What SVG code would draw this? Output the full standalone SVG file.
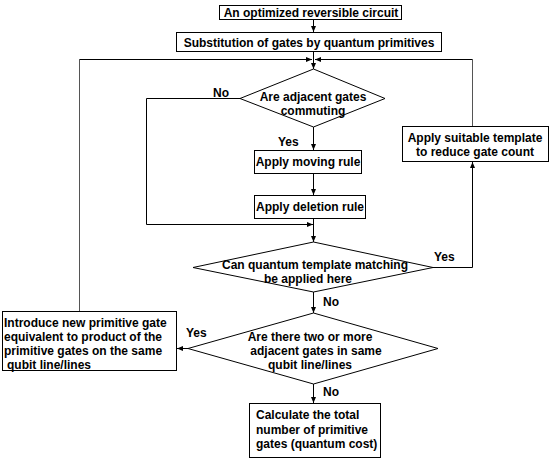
<svg xmlns="http://www.w3.org/2000/svg" width="553" height="465" viewBox="0 0 553 465">
<style>
.box{fill:#fff;stroke:#000;stroke-width:1}
.dia{fill:#fff;stroke:#000;stroke-width:1}
.t{font-family:"Liberation Sans",Arial,sans-serif;font-weight:bold;font-size:12px;fill:#000}
.c{text-anchor:middle}
.ln{fill:none;stroke:#000;stroke-width:1}
.lg{fill:none;stroke:#555;stroke-width:1}
</style>
<defs>
<marker id="ah" viewBox="0 0 6 6" refX="6" refY="3" markerWidth="6" markerHeight="6" orient="auto" markerUnits="userSpaceOnUse">
<path d="M0,0.5 L6,3 L0,5.5 Z" fill="#000"/>
</marker>
</defs>
<rect width="553" height="465" fill="#fff"/>
<g id="connectors">
<path class="ln" d="M313.5,20 V32" marker-end="url(#ah)"/>
<path class="ln" d="M313.5,52 V69" marker-end="url(#ah)"/>
<path class="lg" d="M79.5,311 V59.5"/>
<path class="ln" d="M79.5,59.5 H312" marker-end="url(#ah)"/>
<path class="lg" d="M472.5,127 V59.5"/>
<path class="ln" d="M472.5,59.5 H315" marker-end="url(#ah)"/>
<path class="ln" d="M240,98.5 H146.5 V224.5 H313" marker-end="url(#ah)"/>
<path class="ln" d="M313.5,127 V150" marker-end="url(#ah)"/>
<path class="ln" d="M313.5,174 V195" marker-end="url(#ah)"/>
<path class="ln" d="M313.5,219 V242" marker-end="url(#ah)"/>
<path class="ln" d="M433,267.5 H472.5 V162" marker-end="url(#ah)"/>
<path class="ln" d="M313.5,292 V313" marker-end="url(#ah)"/>
<path class="ln" d="M188,348.5 H177" marker-end="url(#ah)"/>
<path class="ln" d="M313.5,384 V403" marker-end="url(#ah)"/>
<text class="t" x="213" y="97">No</text>
<text class="t" x="278" y="146">Yes</text>
<text class="t" x="434" y="261">Yes</text>
<text class="t" x="323" y="306">No</text>
<text class="t" x="186" y="337">Yes</text>
<text class="t" x="323" y="396">No</text>
</g>
<g id="n1">
<rect class="box" x="219.5" y="5.5" width="182" height="14"/>
<text class="t c" x="311" y="17">An optimized reversible circuit</text>
</g>
<g id="n2">
<rect class="box" x="176.5" y="32.5" width="265" height="19"/>
<text class="t c" x="309" y="46.5">Substitution of gates by quantum primitives</text>
</g>
<g id="d1">
<polygon class="dia" points="313.5,69 385,98.5 313.5,127 240,98.5"/>
<text class="t c" x="313" y="101">Are adjacent gates</text>
<text class="t c" x="313" y="115">commuting</text>
</g>
<g id="n3">
<rect class="box" x="254.5" y="150.5" width="107" height="23"/>
<text class="t c" x="308" y="165.5">Apply moving rule</text>
</g>
<g id="n4">
<rect class="box" x="254.5" y="195.5" width="111" height="23"/>
<text class="t c" x="310" y="210.5">Apply deletion rule</text>
</g>
<g id="d2">
<polygon class="dia" points="313.5,242 433,267.5 313.5,292 193,267.5"/>
<text class="t c" x="315" y="269">Can quantum template matching</text>
<text class="t c" x="308" y="283">be applied here</text>
</g>
<g id="n5">
<rect class="box" x="402.5" y="126.5" width="146" height="35"/>
<text class="t c" x="475" y="142">Apply suitable template</text>
<text class="t c" x="475" y="156">to reduce gate count</text>
</g>
<g id="d3">
<polygon class="dia" points="313.5,313 438,348.5 313.5,384 188,348.5"/>
<text class="t c" x="310" y="341">Are there two or more</text>
<text class="t c" x="316" y="355">adjacent gates in same</text>
<text class="t c" x="310" y="369">qubit line/lines</text>
</g>
<g id="n6">
<rect class="box" x="2.5" y="311.5" width="174" height="59"/>
<text class="t" x="4" y="327">Introduce new primitive gate</text>
<text class="t" x="4" y="341">equivalent to product of the</text>
<text class="t" x="4" y="355">primitive gates on the same</text>
<text class="t" x="7" y="369">qubit line/lines</text>
</g>
<g id="n7">
<rect class="box" x="249.5" y="403.5" width="131" height="54"/>
<text class="t" x="256" y="419">Calculate the total</text>
<text class="t" x="256" y="434">number of primitive</text>
<text class="t" x="256" y="448">gates (quantum cost)</text>
</g>
</svg>
